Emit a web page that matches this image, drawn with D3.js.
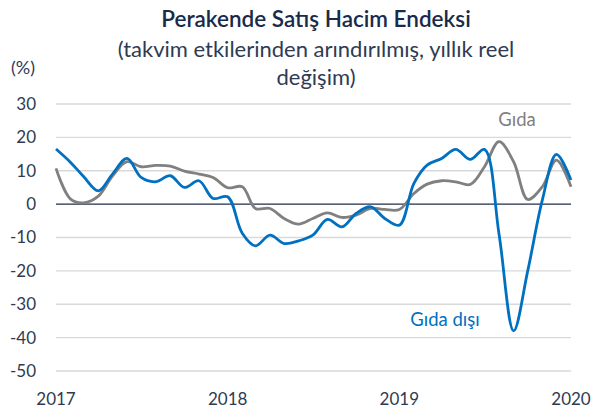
<html lang="tr">
<head>
  <meta charset="utf-8"/>
  <title>Perakende Satış Hacim Endeksi</title>
  <script src="https://d3js.org/d3.v7.min.js"></script>
  <style>
  body { margin: 0; background: #fff; }
  * { font-family: "Lato", "Open Sans", sans-serif; }
  .grid line { stroke: #d9d9d9; stroke-width: 1.3px; }
  .tick-label { fill: #2f3b52; font-size: 17px; }
  </style>
</head>
<body>
  <svg id="chart" width="595" height="410"></svg>
  <script>
    // monthly values, Jan 2017 .. Jan 2020
    const startMonth = "2017-01";
    const gidaDisi = [16.5, 12.5, 8.2, 4.0, 9.0, 13.7, 8.0, 6.7, 8.5, 5.0, 7.0, 1.7,
                      2.2, -8.7, -12.5, -9.3, -11.8, -11.0, -9.3, -4.6, -6.8, -2.8, -0.8, -4.3,
                      -6.3, 6.2, 11.7, 13.7, 16.4, 13.4, 16.4, -9.0, -38.0, -20.0, 1.2, 14.9,
                      7.2];
    const gida = [10.7, 1.5, 0.4, 2.4, 8.4, 12.7, 11.2, 11.6, 11.4, 9.9, 9.0, 8.0,
                  4.9, 5.2, -1.3, -1.3, -4.3, -6.0, -4.3, -2.6, -4.0, -3.3, -1.3, -1.6,
                  -1.6, 3.2, 6.0, 7.0, 6.7, 5.9, 11.2, 18.7, 12.7, 1.4, 5.2, 13.2,
                  5.2];
    const yTicks = [30, 20, 10, 0, -10, -20, -30, -40, -50];
    const xTicks = ["2017", "2018", "2019", "2020"];

    const svg = d3.select("#chart");
    const margin = { top: 104, right: 24, bottom: 39, left: 56 };
    const width = 595, height = 410;

    const parseMonth = d3.timeParse("%Y-%m");
    const t0 = parseMonth(startMonth);
    const dates = gida.map((d, i) => d3.timeMonth.offset(t0, i));

    const x = d3.scaleTime()
      .domain([d3.timeParse("%Y")(xTicks[0]), d3.timeParse("%Y")(xTicks[xTicks.length - 1])])
      .range([margin.left, width - margin.right]);
    const y = d3.scaleLinear()
      .domain([-50, 30])
      .range([height - margin.bottom, margin.top]);

    // gridlines
    svg.append("g").attr("class", "grid")
      .selectAll("line").data(yTicks.filter(d => d !== 0)).join("line")
      .attr("x1", x.range()[0]).attr("x2", x.range()[1])
      .attr("y1", d => y(d)).attr("y2", d => y(d));

    // y labels
    svg.append("g").selectAll("text").data(yTicks).join("text")
      .attr("class", "tick-label")
      .attr("x", 36).attr("y", d => y(d)).attr("dy", "0.35em")
      .attr("text-anchor", "end")
      .text(d => d);

    // x labels
    svg.append("g").selectAll("text").data(xTicks).join("text")
      .attr("class", "tick-label")
      .attr("x", d => x(d3.timeParse("%Y")(d))).attr("y", 405)
      .attr("text-anchor", "middle")
      .text(d => d);

    // zero line
    svg.append("line")
      .attr("x1", x.range()[0]).attr("x2", x.range()[1])
      .attr("y1", y(0)).attr("y2", y(0))
      .attr("stroke", "#1f2d4a").attr("stroke-width", 1.3);

    const line = d3.line()
      .x((d, i) => x(dates[i]))
      .y(d => y(d))
      .curve(d3.curveCatmullRom.alpha(0.5));

    svg.append("path").datum(gida)
      .attr("fill", "none").attr("stroke", "#808080").attr("stroke-width", 2.8)
      .attr("d", line);
    svg.append("path").datum(gidaDisi)
      .attr("fill", "none").attr("stroke", "#0070c0").attr("stroke-width", 2.8)
      .attr("d", line);

    // series labels
    svg.append("text").attr("x", 517).attr("y", 126)
      .attr("text-anchor", "middle").attr("fill", "#808080").attr("font-size", 18.5)
      .text("Gıda");
    svg.append("text").attr("x", 445).attr("y", 326)
      .attr("text-anchor", "middle").attr("fill", "#0070c0").attr("font-size", 18.5)
      .text("Gıda dışı");

    // titles
    svg.append("text").attr("x", 23).attr("y", 74)
      .attr("text-anchor", "middle").attr("fill", "#2f3b52").attr("font-size", 18)
      .text("(%)");
    svg.append("text").attr("x", 316).attr("y", 27)
      .attr("text-anchor", "middle").attr("fill", "#1a2a4a").attr("font-size", 22.5)
      .attr("font-weight", 600)
      .text("Perakende Satış Hacim Endeksi");
    svg.append("text").attr("x", 316).attr("y", 57)
      .attr("text-anchor", "middle").attr("fill", "#2f3b52").attr("font-size", 22)
      .text("(takvim etkilerinden arındırılmış, yıllık reel");
    svg.append("text").attr("x", 316).attr("y", 85)
      .attr("text-anchor", "middle").attr("fill", "#2f3b52").attr("font-size", 22)
      .text("değişim)");
  </script>
</body>
</html>
